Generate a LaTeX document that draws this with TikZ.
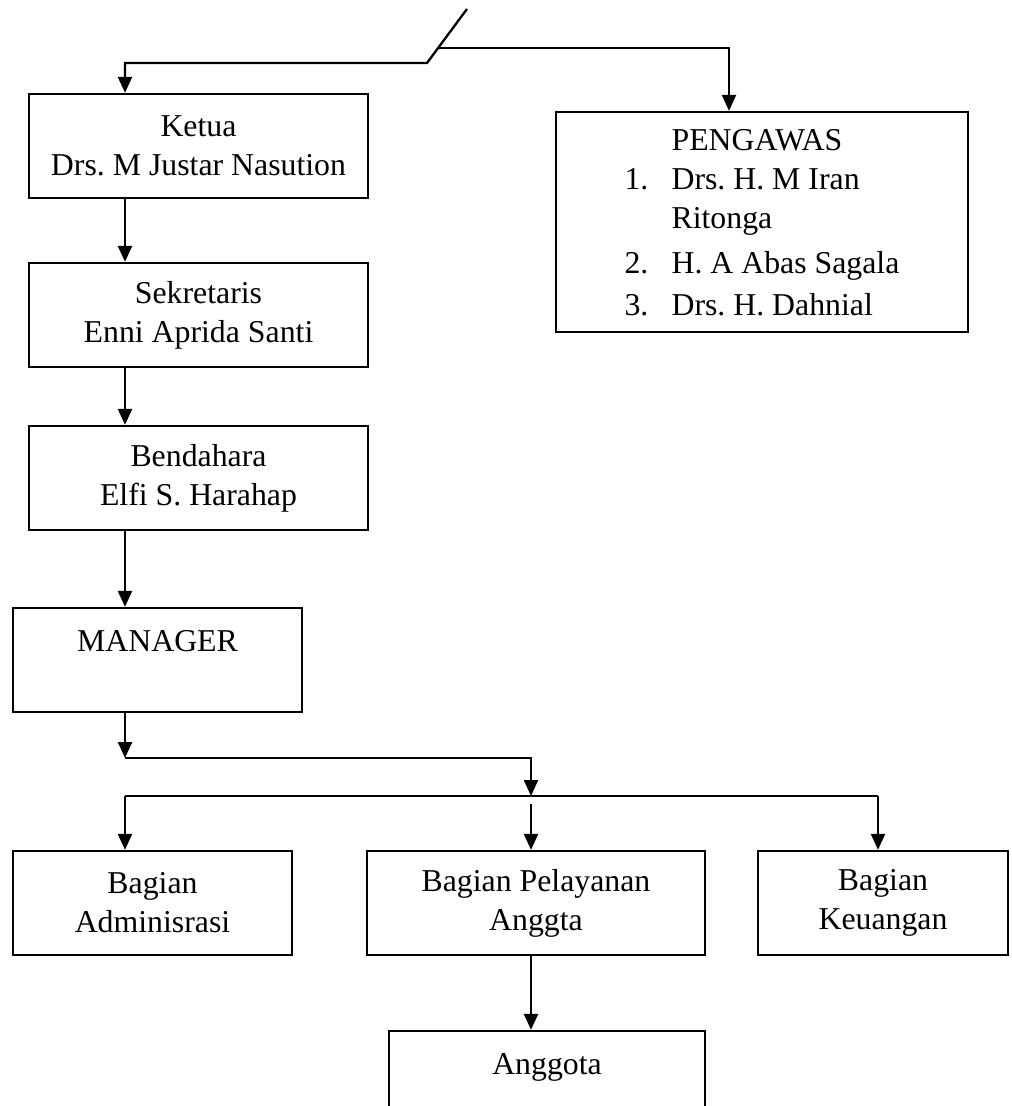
\documentclass[tikz,border=0pt]{standalone}
\usepackage{fontspec}
\setmainfont{Liberation Serif}
\usetikzlibrary{arrows.meta}

\newcommand{\pnum}[1]{\makebox[23.5pt][l]{#1}}

\begin{document}
\frenchspacing
\begin{tikzpicture}[x=0.5pt, y=-0.5pt, line width=1.15pt,
  >={Triangle[length=8pt,width=7pt]},
  unit/.style={draw, rectangle, align=center, inner sep=2pt,
    minimum height=52pt, font=\fontsize{15.9}{19.5}\selectfont}]

\useasboundingbox (0,0) rectangle (1011,1106);
\clip (0,0) rectangle (1011,1106);

% Nodes (left column)
\node (ketua)      at (198.5,146) [unit, minimum width=169.5pt] {Ketua\\Drs. M Justar Nasution};
\node (sekretaris) at (198.5,315) [unit, minimum width=169.5pt] {Sekretaris\\Enni Aprida Santi};
\node (bendahara)  at (198.5,478) [unit, minimum width=169.5pt] {Bendahara\\Elfi S. Harahap};
\node (manager)    at (157.5,660) [unit, minimum width=144.5pt] {MANAGER\\\mbox{}};

% Supervisors
\node (pengawas) at (762,222) [unit, align=left, minimum width=206pt, minimum height=110pt,
    text depth=-3pt]
  {\hspace*{23.5pt}PENGAWAS\\
   \pnum{1.}Drs. H. M Iran\\
   \hspace*{23.5pt}Ritonga\\[3pt]
   \pnum{2.}H. A Abas Sagala\\[1.5pt]
   \pnum{3.}Drs. H. Dahnial};

% Nodes (bottom row)
\node (admin)     at (152.5,903) [unit, minimum width=139.5pt] {Bagian\\Adminisrasi};
\node (pelayanan) at (536,903)   [unit, minimum width=169pt]   {Bagian Pelayanan\\Anggta};
\node (keuangan)  at (883,903)   [unit, minimum width=125pt]   {Bagian\\Keuangan};
\node (anggota)   at (547,1083)  [unit, minimum width=158pt]   {Anggota\\\mbox{}};

% Turning points
\coordinate (slashtop)  at (467,9);
\coordinate (slashfoot) at (427,63);
\coordinate (slashmid)  at (438,48);
\coordinate (leftturn)  at (125,63);
\coordinate (rightturn) at (729,48);
\coordinate (mjoin)     at (125,758);
\coordinate (mturn)     at (531,758);
\coordinate (hub)       at (531,796);
\coordinate (hubgap)    at (531,804);
\coordinate (hubL)      at (125,796);
\coordinate (hubR)      at (878,796);

% Top split
\draw[->] (slashtop) -- (slashfoot) -- (leftturn) -- (leftturn |- ketua.north);
\draw[->] (slashmid) -- (rightturn) -- (rightturn |- pengawas.north);

% Down the left column
\draw[->] (ketua.south -| leftturn) -- (sekretaris.north -| leftturn);
\draw[->] (sekretaris.south -| leftturn) -- (bendahara.north -| leftturn);
\draw[->] (bendahara.south -| leftturn) -- (manager.north -| leftturn);

% From manager to the sections
\draw[->] (manager.south -| mjoin) -- (mjoin);
\draw[->] (mjoin) -- (mturn) -- (hub);
\draw (hubL) -- (hubR);
\draw[->] (hubL) -- (hubL |- admin.north);
\draw[->] (hubgap) -- (hubgap |- pelayanan.north);
\draw[->] (hubR) -- (hubR |- keuangan.north);

% Members
\draw[->] (pelayanan.south -| hub) -- (anggota.north -| hub);

\end{tikzpicture}
\end{document}
